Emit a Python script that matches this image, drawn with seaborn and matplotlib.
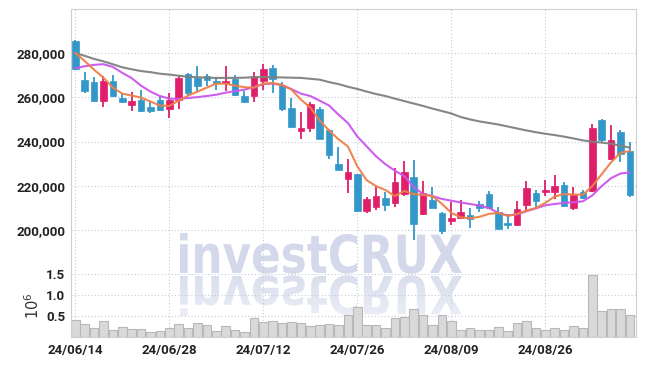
import numpy as np
import pandas as pd
import seaborn as sns
import matplotlib
matplotlib.use('Agg')
from matplotlib import pyplot as plt
from matplotlib.textpath import TextPath
from matplotlib.patches import PathPatch
from matplotlib.font_manager import FontProperties
from matplotlib.transforms import Affine2D
from matplotlib.colors import LinearSegmentedColormap

# trading days 24/06/14 .. 24/09/06 (08/15 is a holiday)
days = pd.bdate_range('2024-06-14', '2024-09-06')
days = days[days != pd.Timestamp('2024-08-15')]
date_labels = [d.strftime('%y/%m/%d') for d in days]

open_ = [285500, 268000, 266800, 258200, 267500, 259800, 256700, 259000, 255500, 259000,
         254500, 259000, 270700, 268700, 269800, 267500, 266300, 268400, 260800, 260800,
         267200, 273200, 265700, 255200, 244700, 245900, 254900, 245000, 229700, 223000,
         225200, 208700, 210500, 214300, 212000, 216200, 224000, 207200, 213500, 207700,
         203900, 205300, 206800, 211800, 216200, 208000, 203200, 202000, 211300, 216500,
         217000, 217000, 220400, 209800, 217300, 217500, 249700, 232300, 244500, 235500]
close = [272800, 263000, 258200, 267500, 260500, 257800, 258200, 253700, 254000, 254200,
         258700, 268700, 262000, 265300, 267700, 266500, 267200, 260900, 257800, 269800,
         272900, 268300, 254800, 246500, 246200, 257000, 241300, 233900, 227200, 226000,
         208700, 214000, 215200, 211400, 221800, 226300, 202700, 216600, 210000, 199300,
         205300, 208300, 205000, 209800, 209900, 200200, 202000, 209500, 218800, 213200,
         218000, 219700, 210700, 216000, 214400, 246300, 240700, 240500, 234500, 215900]
high = [286000, 271300, 269000, 269500, 270000, 261500, 262300, 263500, 258200, 260800,
        262000, 269800, 271000, 274300, 270500, 269200, 274300, 270200, 262900, 271500,
        275000, 274700, 267000, 259800, 253300, 258000, 255500, 245500, 237300, 232000,
        225500, 215000, 219700, 217000, 227800, 231200, 231500, 222000, 219300, 208000,
        212500, 213700, 209800, 213200, 217500, 210200, 207000, 213200, 222200, 218200,
        222500, 224800, 221500, 219300, 218000, 248000, 250300, 247300, 245000, 239800]
low = [272500, 262100, 257800, 255700, 260000, 257500, 253600, 253500, 253000, 253800,
       250700, 254800, 261000, 262700, 265000, 263500, 262700, 260500, 257500, 258000,
       263500, 262000, 253700, 246300, 241300, 244300, 241000, 232000, 227000, 216700,
       208000, 207700, 209200, 208700, 210200, 215500, 195200, 206500, 209700, 198200,
       202300, 205000, 200800, 208000, 209500, 200200, 200500, 201700, 208700, 209500,
       215200, 214000, 210300, 209000, 214000, 217000, 240000, 231500, 230500, 214700]
volume = [0.41, 0.31, 0.225, 0.375, 0.175, 0.25, 0.2, 0.2, 0.125, 0.16,
          0.21, 0.325, 0.225, 0.35, 0.28, 0.16, 0.275, 0.18, 0.135, 0.46,
          0.365, 0.38, 0.33, 0.36, 0.33, 0.26, 0.28, 0.31, 0.28, 0.53,
          0.71, 0.28, 0.28, 0.21, 0.46, 0.49, 0.66, 0.52, 0.28, 0.53,
          0.39, 0.18, 0.225, 0.18, 0.18, 0.25, 0.14, 0.33, 0.38, 0.21,
          0.18, 0.21, 0.18, 0.26, 0.23, 1.475, 0.62, 0.68, 0.66, 0.53]
ma_short = [280100, 276500, 272500, 268900, 264400, 261700, 260800, 259900, 258100, 256300,
            256100, 258500, 260800, 262600, 264400, 266200, 266200, 265300, 264600, 264400,
            266200, 266500, 265700, 263500, 259000, 255400, 249500, 245000, 241000, 237800,
            228800, 222500, 219800, 218000, 215300, 217600, 216200, 215800, 215300, 211800,
            207700, 205700, 205200, 205900, 207200, 207700, 206300, 207200, 208700, 209900,
            212200, 215100, 216200, 216000, 215900, 219800, 225200, 230600, 234900, 235700]
ma_mid = [273100, 274100, 274700, 275000, 273800, 271100, 268700, 265300, 262600, 260600,
          259400, 259300, 259700, 260100, 260600, 261200, 262100, 262800, 263500, 264600,
          266000, 266200, 265500, 263700, 261700, 260600, 258500, 256300, 252200, 248400,
          242300, 237800, 233300, 229700, 226800, 224300, 219400, 216200, 215300, 214000,
          213200, 212400, 211700, 211000, 209900, 207700, 206500, 207000, 208400, 209700,
          211100, 211700, 212200, 212500, 212900, 215600, 219800, 223400, 225500, 226000]
ma_long = [280000, 278800, 277400, 276300, 275000, 273600, 272700, 271900, 271400, 270700,
           270300, 269800, 269300, 269100, 268900, 268800, 268800, 268800, 268900, 269100,
           269200, 269100, 269000, 268900, 268800, 268400, 268000, 266900, 266000, 264800,
           263800, 262600, 261500, 260600, 259400, 258300, 257200, 256100, 254900, 253800,
           252700, 251100, 250000, 249100, 248400, 247700, 246800, 245900, 245000, 244200,
           243500, 242900, 242200, 241400, 240500, 239900, 239500, 239000, 238100, 237200]
price_ticks = [200000, 220000, 240000, 260000, 280000]
vol_ticks = [0.5, 1.0, 1.5]

sns.set_style('white')
plt.rcParams['font.family'] = ['Roboto', 'DejaVu Sans']

UP, DOWN = '#e01f6b', '#3398c9'
GRID = '#c6c9dd'
SPINE = '#d0d0d0'

df = pd.DataFrame({'i': np.arange(len(close)), 'open': open_, 'close': close,
                   'high': high, 'low': low, 'vol': volume,
                   'ma5': ma_short, 'ma10': ma_mid, 'ma60': ma_long})
df['up'] = df['close'] >= df['open']
colors = np.where(df['up'], UP, DOWN)

fig = plt.figure(figsize=(6.45, 3.66), dpi=100, facecolor='white')

# watermark (pixel coords)
wm = fig.add_axes([0, 0, 1, 1], zorder=-1)
wm.axis('off')
tp = TextPath((0, 0), 'investCRUX', size=1,
              prop=FontProperties(family='DejaVu Sans', weight='bold'))
ext = tp.get_extents()
sx = (462 - 180) / ext.width
sy = 40 / ext.y1
t_main = Affine2D().translate(-ext.x0, 0).scale(sx, -sy).translate(180, 273) + wm.transData
t_refl = Affine2D().translate(-ext.x0, 0).scale(sx, sy).translate(180, 276) + wm.transData
wm.add_patch(PathPatch(tp, transform=t_main, facecolor='#d3d9ea', edgecolor='none'))
refl = PathPatch(tp, transform=t_refl, facecolor='none', edgecolor='none')
wm.add_patch(refl)
grad = np.linspace(0, 1, 60).reshape(-1, 1)
cm = LinearSegmentedColormap.from_list('wm', ['#d9deed', '#eceff7'])
im = wm.imshow(grad, extent=(178, 465, 320, 274), cmap=cm, aspect='auto')
im.set_clip_path(refl)
wm.set_xlim(0, 645)
wm.set_ylim(366, 0)

left, width = 71 / 645, 565 / 645
ax = fig.add_axes([left, 1 - 274 / 366, width, 265 / 366])
axv = fig.add_axes([left, 1 - 337.3 / 366, width, 63.3 / 366], sharex=ax)
for a in (ax, axv):
    a.set_facecolor('none')
    a.set_axisbelow(True)
    a.grid(True, color=GRID, linestyle=(0, (1, 2)), linewidth=0.8)
    for s in a.spines.values():
        s.set_color(SPINE)
        s.set_linewidth(0.8)

# candles
ax.vlines(df['i'], df['low'], df['high'], colors=colors, linewidth=1.3, zorder=2)
ax.bar(df['i'], (df['close'] - df['open']).abs(), bottom=df[['open', 'close']].min(axis=1),
       width=0.7, color=colors, edgecolor=colors, linewidth=0.5, zorder=3)

sns.lineplot(data=df, x='i', y='ma60', ax=ax, color='#808080', linewidth=1.5, alpha=0.95, zorder=4)
sns.lineplot(data=df, x='i', y='ma10', ax=ax, color='#cc55ee', linewidth=1.5, alpha=0.95, zorder=4)
sns.lineplot(data=df, x='i', y='ma5', ax=ax, color='#ee8048', linewidth=1.5, alpha=0.95, zorder=5)

sns.barplot(data=df, x='i', y='vol', ax=axv, native_scale=True, width=0.92,
            color='#d9d9d9', saturation=1, edgecolor='#b8b8b8', linewidth=0.8, zorder=2)

ax.set_xlim(-0.45, 59.65)
ax.set_ylim(180000, 300000)
axv.set_ylim(0, 1.5)

tick_pos = list(range(0, len(close), 10))
ax.set_xticks(tick_pos)
ax.set_yticks(price_ticks)
ax.set_yticklabels([f'{t:,}' for t in price_ticks])
ax.tick_params(labelbottom=False, length=0, pad=4, labelsize=9.5)
ax.spines['bottom'].set_visible(False)

axv.set_xticks(tick_pos)
axv.set_xticklabels([date_labels[k] for k in tick_pos])
axv.set_yticks(vol_ticks)
axv.set_yticklabels([f'{v:.1f}' for v in vol_ticks])
axv.tick_params(length=0, pad=4, labelsize=9.5)
axv.tick_params(axis='x', pad=5)
axv.spines['top'].set_visible(False)
for lab in ax.get_yticklabels() + axv.get_yticklabels() + axv.get_xticklabels():
    lab.set_fontweight('bold')
    lab.set_color('#222222')
ax.set_xlabel('')
ax.set_ylabel('')
axv.set_xlabel('')
axv.set_ylabel(r'$10^6$', fontsize=10.5, color='#333333', labelpad=3)

fig.savefig('out.png', dpi=100)
plt.close('all')
